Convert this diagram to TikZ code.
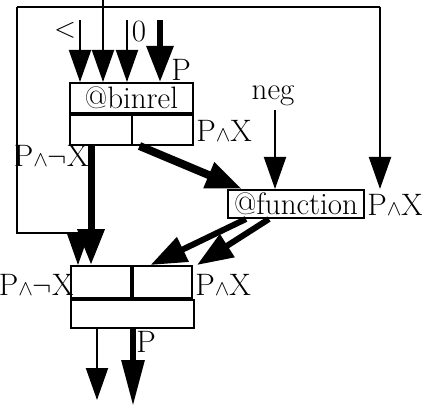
\documentclass[tikz,border=0pt]{standalone}
\usetikzlibrary{arrows.meta,calc}
\tikzset{
  cellbox/.style={draw=black,line width=1pt,inner sep=0pt,minimum height=15pt},
  wire/.style={draw=black,line width=1pt},
  flowthin/.style={wire,-{Triangle[length=16pt,width=11pt]}},
  flowthick/.style={draw=black,line width=3pt,-{Triangle[length=18pt,width=13pt]}},
  lbl/.style={inner sep=0pt},
}
\newcommand{\andsym}{$\scriptstyle\wedge$}
\begin{document}
\begin{tikzpicture}[x=0.5pt,y=-0.5pt,font=\fontsize{15.5}{18}\selectfont]
  \useasboundingbox (0,0) rectangle (422,406);
  % @binrel box
  \node[cellbox,minimum width=61.5pt] (binrel) at (131.5,98) {@binrel};
  \node[cellbox,minimum width=30.75pt,anchor=north west] (binL) at (binrel.south west) {};
  \node[cellbox,minimum width=30.75pt,anchor=north east] (binR) at (binrel.south east) {};
  % @function box
  \node[cellbox,minimum width=68pt,minimum height=14pt] (func) at (296,204) {@function};
  % lower box
  \node[cellbox,minimum width=30.75pt,minimum height=16pt,anchor=north west] (outL) at (70,265) {};
  \node[cellbox,minimum width=30.75pt,minimum height=16pt,anchor=north east] (outR) at (193,265) {};
  \node[cellbox,minimum width=61.5pt,minimum height=14pt,anchor=north west] (outB) at (outL.south west) {};
  % labels
  \node[lbl] (lt) at (65,30) {$<$};
  \node[lbl] (zero) at (139,32) {0};
  \node[lbl] (pin) at (181,70) {P};
  \node[lbl] (neg) at (273,96) {neg};
  \node[lbl,anchor=east] (pnx1) at (89,156) {P\andsym$\neg$X};
  \node[lbl,anchor=west] (px1) at (196,131) {P\andsym X};
  \node[lbl,anchor=west] (px2) at (367,205) {P\andsym X};
  \node[lbl,anchor=east] (pnx2) at (74,285) {P\andsym$\neg$X};
  \node[lbl,anchor=west] (px3) at (195,285) {P\andsym X};
  \node[lbl] (pout) at (146,342) {P};
  % free ends
  \coordinate (src) at (103,0);
  \coordinate (fanL) at (17,7);
  \coordinate (fanR) at (380,7);
  \coordinate (bend) at (17,233);
  \coordinate (ldrop) at (78,0);
  \coordinate (in1) at (80,20);
  \coordinate (in3) at (127,20);
  \coordinate (in4) at (160,20);
  \coordinate (negtop) at (275,110);
  \coordinate (dn) at (91,0);
  \coordinate (endA) at (97,400);
  \coordinate (endB) at (133,406);
  % connectors
  \draw[wire] (fanL) -- (fanR);
  \draw[flowthin] (src) -- (src |- binrel.north);
  \foreach \c in {in1,in3}
    {\draw[flowthin] (\c) -- (\c |- binrel.north);}
  \draw[flowthick] (in4) -- (in4 |- binrel.north);
  \draw[flowthin] (fanL) -- (bend) -| (ldrop |- outL.north);
  \draw[flowthin] (fanR) -- (fanR |- func.north);
  \draw[flowthin] (negtop) -- (negtop |- func.north);
  \draw[flowthick,line width=3.5pt] (dn |- binL.south) -- (dn |- outL.north);
  \draw[flowthick,line width=4pt] ($(binR.south west)+(9,0)$) -- ($(func.north west)+(15,0)$);
  \draw[flowthick] ($(func.south west)+(19,0)$) -- ($(outR.north west)+(21,0)$);
  \draw[flowthick] ($(func.south west)+(42,0)$) -- ($(outR.north east)+(4,0)$);
  \draw[flowthin] (endA |- outB.south) -- (endA);
  \draw[flowthick,-{Triangle[length=23pt,width=11pt]}] (endB |- outB.south) -- (endB);
\end{tikzpicture}
\end{document}
